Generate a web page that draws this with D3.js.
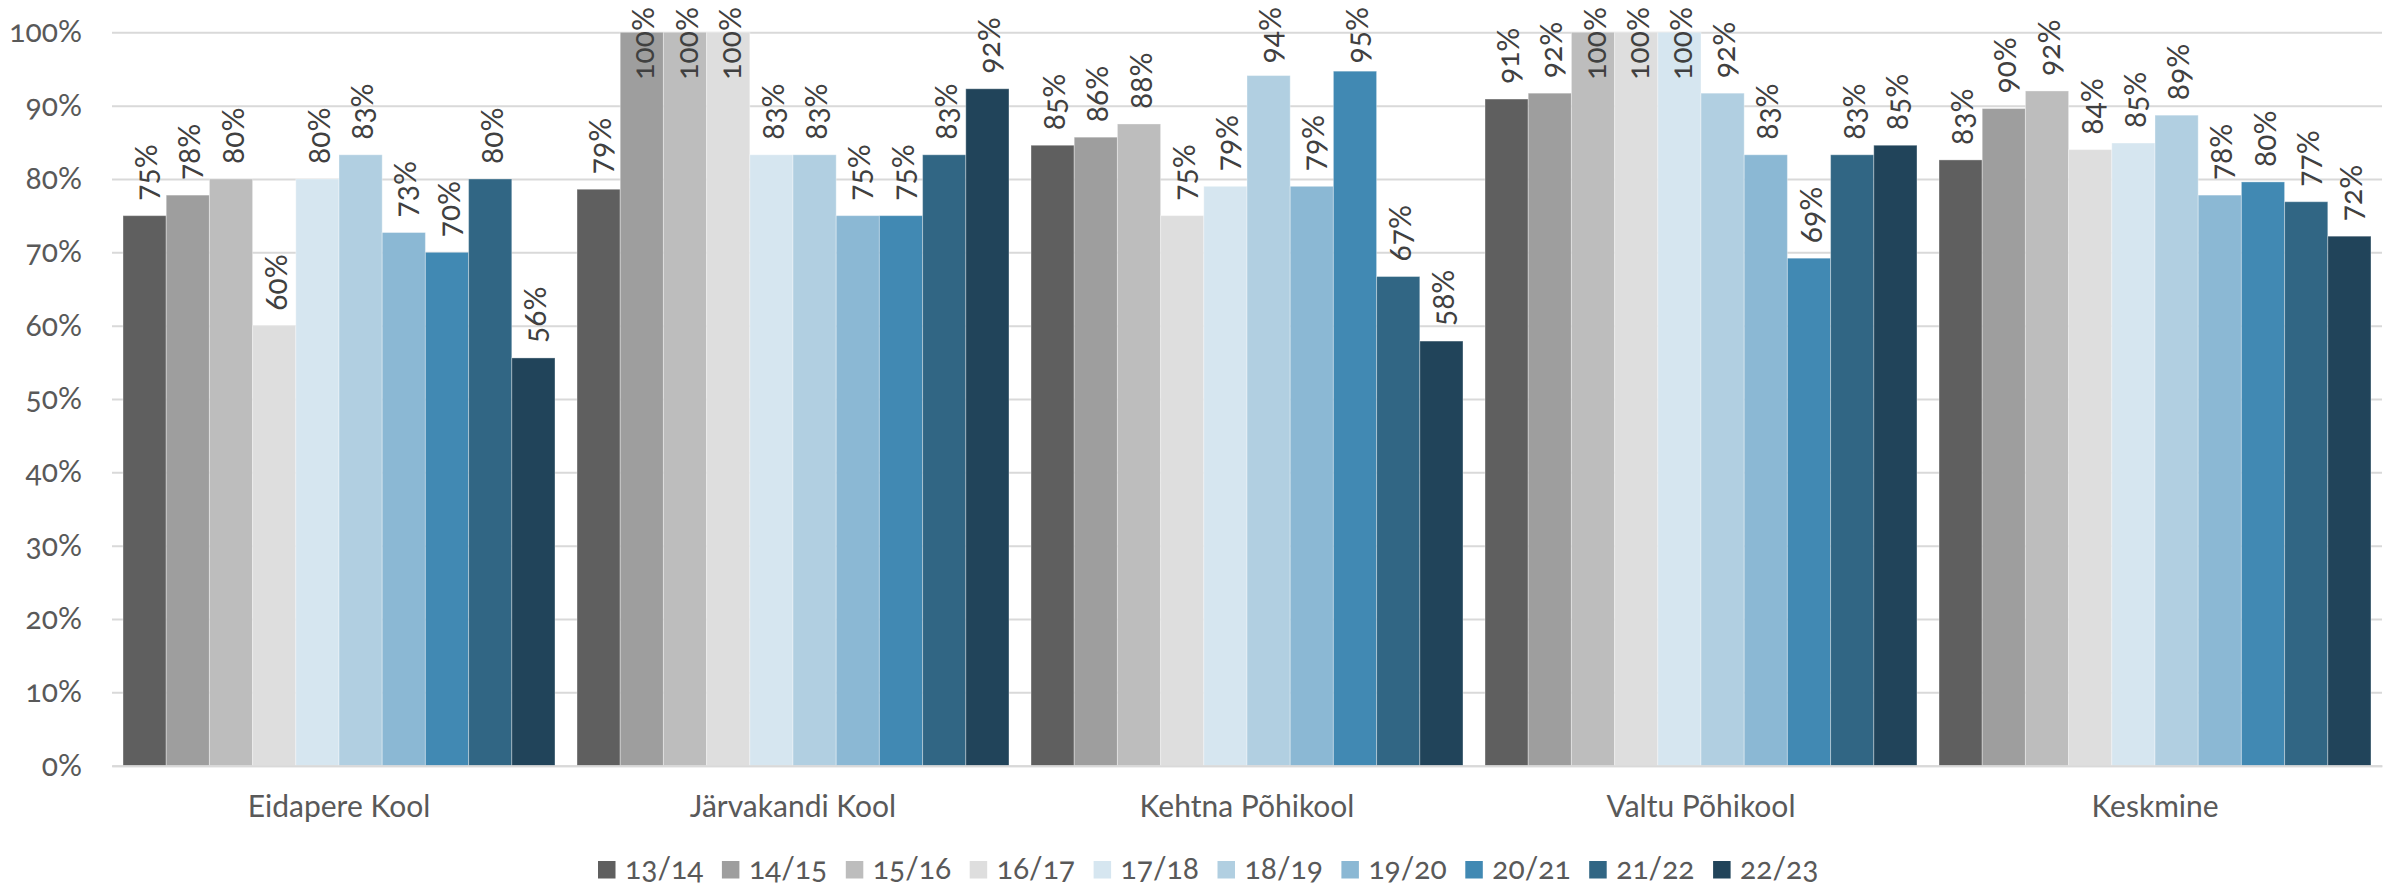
<!DOCTYPE html>
<html>
<head>
<meta charset="utf-8">
<script src="https://cdn.jsdelivr.net/npm/d3@7"></script>
<style>
  html, body { margin: 0; padding: 0; background: #fff; }
  svg { display: block; }
  text { font-family: Lato, "Noto Sans", sans-serif; font-variant-numeric: oldstyle-nums; }
</style>
</head>
<body>
<svg id="chart" width="2395" height="887"></svg>
<script>
const categories = ["Eidapere Kool", "Järvakandi Kool", "Kehtna Põhikool", "Valtu Põhikool", "Keskmine"];
const seriesNames = ["13/14", "14/15", "15/16", "16/17", "17/18", "18/19", "19/20", "20/21", "21/22", "22/23"];
const seriesColors = ["#5f5f5f", "#9e9e9e", "#bdbdbd", "#dedede", "#d6e6f0", "#b1cfe1", "#8bb8d4", "#4189b3", "#316684", "#21445a"];
// values per category, in series order (fractions)
const eidapere   = [0.750, 0.778, 0.800, 0.600, 0.800, 0.833, 0.727, 0.700, 0.800, 0.556];
const jarvakandi = [0.786, 1.000, 1.000, 1.000, 0.833, 0.833, 0.750, 0.750, 0.833, 0.923];
const kehtna     = [0.846, 0.857, 0.875, 0.750, 0.790, 0.941, 0.790, 0.947, 0.667, 0.579];
const valtu      = [0.909, 0.917, 1.000, 1.000, 1.000, 0.917, 0.833, 0.692, 0.833, 0.846];
const keskmine   = [0.826, 0.896, 0.920, 0.840, 0.849, 0.887, 0.778, 0.796, 0.769, 0.722];
const valuesByCategory = [eidapere, jarvakandi, kehtna, valtu, keskmine];
const yTicks = [0, 0.1, 0.2, 0.3, 0.4, 0.5, 0.6, 0.7, 0.8, 0.9, 1.0];

const svg = d3.select("#chart");
const W = 2395, H = 887;
const plot = { left: 112, right: 2382, top: 32.3, bottom: 765.7 };
const FS = 30;
const axisColor = "#595959";
const labelColor = "#404040";

const x0 = d3.scaleBand().domain(categories).range([plot.left, plot.right]).paddingInner(0).paddingOuter(0);
const x1 = d3.scaleBand().domain(seriesNames).range([0, x0.bandwidth()]).paddingInner(0).paddingOuter(0.255);
const y = d3.scaleLinear().domain([0, 1]).range([plot.bottom, plot.top]);
const color = d3.scaleOrdinal().domain(seriesNames).range(seriesColors);

// Y axis with gridlines
const yAxis = d3.axisLeft(y).tickValues(yTicks).tickFormat(d3.format(".0%"))
  .tickSize(-(plot.right - plot.left)).tickPadding(30);
const gy = svg.append("g").attr("transform", `translate(${plot.left},0)`).call(yAxis);
gy.select(".domain").remove();
gy.selectAll(".tick line").attr("stroke", "#d9d9d9").attr("stroke-width", 2);
gy.selectAll(".tick text").attr("fill", axisColor).style("font-size", FS + "px");

// Bars
const data = [];
categories.forEach((c, ci) => {
  seriesNames.forEach((s, si) => {
    data.push({ cat: c, ser: s, val: valuesByCategory[ci][si] });
  });
});

const bars = svg.append("g");
bars.selectAll("rect").data(data).join("rect")
  .attr("x", d => x0(d.cat) + x1(d.ser))
  .attr("y", d => y(d.val))
  .attr("width", x1.bandwidth())
  .attr("height", d => y(0) - y(d.val))
  .attr("fill", d => color(d.ser))
  .attr("stroke", "rgba(255,255,255,0.35)")
  .attr("stroke-width", 1);

// X axis
const xAxis = d3.axisBottom(x0).tickSize(0).tickPadding(30);
const gx = svg.append("g").attr("transform", `translate(0,${plot.bottom})`).call(xAxis);
gx.select(".domain").attr("stroke", "#d9d9d9").attr("stroke-width", 2);
gx.selectAll(".tick text").attr("fill", axisColor).style("font-size", FS + "px");

// Data labels (rotated)
const fmt = d3.format(".0%");
const labels = svg.append("g");
const lbl = labels.selectAll("text").data(data).join("text")
  .attr("fill", labelColor)
  .style("font-size", FS + "px")
  .attr("text-anchor", "start")
  .text(d => fmt(d.val));
lbl.each(function(d) {
  const len = this.getComputedTextLength();
  const cx = x0(d.cat) + x1(d.ser) + x1.bandwidth() / 2;
  let start = y(d.val) - 15;
  const topLimit = 7;
  if (start - len < topLimit) start = topLimit + len;
  d3.select(this)
    .attr("transform", `translate(${cx},${start}) rotate(-90)`)
    .attr("dy", (0.42 * FS) + "px");
});

// Legend
const legendStart = 598, legendStep = 123.9;
const lx = d3.scaleBand().domain(seriesNames).range([legendStart, legendStart + legendStep * seriesNames.length]);
const leg = svg.append("g");
const items = leg.selectAll("g").data(seriesNames).join("g")
  .attr("transform", d => `translate(${lx(d)},0)`);
items.append("rect").attr("x", 0).attr("y", 861).attr("width", 17.5).attr("height", 17.5)
  .attr("fill", d => color(d));
items.append("text").attr("x", 27).attr("y", 879).attr("fill", axisColor)
  .style("font-size", FS + "px").text(d => d);
</script>
</body>
</html>
